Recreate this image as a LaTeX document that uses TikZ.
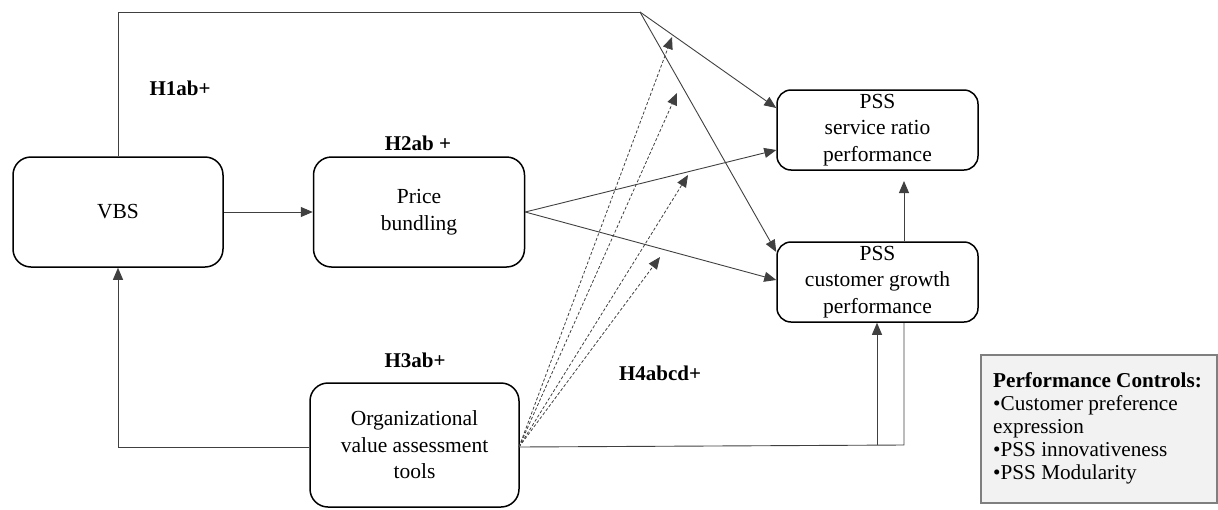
\documentclass[tikz,border=0pt]{standalone}
\usepackage{fontspec}
\setmainfont{Liberation Serif}
\usetikzlibrary{arrows.meta}
\definecolor{linegray}{HTML}{404040}
\definecolor{ctrlfill}{HTML}{F2F2F2}
\definecolor{ctrlborder}{HTML}{7F7F7F}
\begin{document}
\begin{tikzpicture}[x=1pt,y=-1pt,
  box/.style={draw=black, line width=1.5pt, rounded corners=18pt, align=center, inner sep=0pt,
    font=\fontsize{21.5}{26.5}\selectfont},
  conn/.style={draw=linegray, line width=0.9pt},
  arr/.style={conn, -{Triangle[length=12pt,width=10pt]}},
  modarr/.style={draw=linegray, line width=0.8pt, dash pattern=on 3pt off 2pt, -{Triangle[length=12pt,width=10pt]}},
  hlab/.style={font=\fontsize{21}{24}\selectfont\bfseries, inner sep=0pt}
]
\useasboundingbox (0,0) rectangle (1218,509);

% boxes
\node[box, minimum width=210pt, minimum height=110pt] (vbs) at (118,212) {VBS};
\node[box, minimum width=211pt, minimum height=110pt] (price) at (419,212) {Price\\bundling};
\node[box, minimum width=209pt, minimum height=124pt] (org) at (414.5,445) {Organizational\\value assessment\\tools};
\node[box, rounded corners=14pt, minimum width=201pt, minimum height=80pt] (serv) at (877.5,130) {PSS\\service ratio\\performance};
\node[box, rounded corners=14pt, minimum width=201pt, minimum height=80pt] (cust) at (877.5,282) {PSS\\customer growth\\performance};

\draw[draw=ctrlborder, fill=ctrlfill, line width=1.2pt] (981,355) rectangle (1217,503);
\node[anchor=north west, inner sep=0pt, align=left, font=\fontsize{21.2}{23}\selectfont] (ctrl) at (993,372)
  {\textbf{Performance Controls:}\\•Customer preference\\expression\\•PSS innovativeness\\•PSS Modularity};

% hypothesis labels
\node[hlab] (h1) at (180,88) {H1ab+};
\node[hlab] (h2) at (418,143) {H2ab +};
\node[hlab] (h3) at (415,360) {H3ab+};
\node[hlab] (h4) at (660,373) {H4abcd+};

% junction coordinates
\coordinate (j0) at (118,12);
\coordinate (j1) at (640,12);
\coordinate (vbsL) at (118,447);
\coordinate (orgR) at (519,447);
\coordinate (c1) at (904,445);
\coordinate (c2) at (877,445);
\coordinate (servIn) at (904,181);

% H1: VBS -> both outcomes
\draw[conn] (vbs.north) -- (j0) -- (j1);
\draw[arr] (j1) -- (serv.west |- 0,108);
\draw[arr] (j1) -- (cust.west |- 0,252);

% H2
\draw[arr] (vbs.east) -- (price.west);
\draw[arr] (price.east) -- (serv.west |- 0,150);
\draw[arr] (price.east) -- (cust.west |- 0,280);

% H3
\draw[arr] (org.west |- vbsL) -- (vbsL) -- (vbs.south);

% org -> customer growth
\draw[conn] (orgR) -- (c1) -- (cust.south -| c1);
\draw[arr] (c2) -- (cust.south -| c2);

% customer -> service
\draw[arr] (cust.north -| servIn) -- (servIn);

% moderation (H4)
\coordinate (m1) at (672,37);
\coordinate (m2) at (677,93);
\coordinate (m3) at (688,175);
\coordinate (m4) at (660,257);
\foreach \m in {m1,m2,m3,m4} \draw[modarr] (orgR) -- (\m);
\end{tikzpicture}
\end{document}
